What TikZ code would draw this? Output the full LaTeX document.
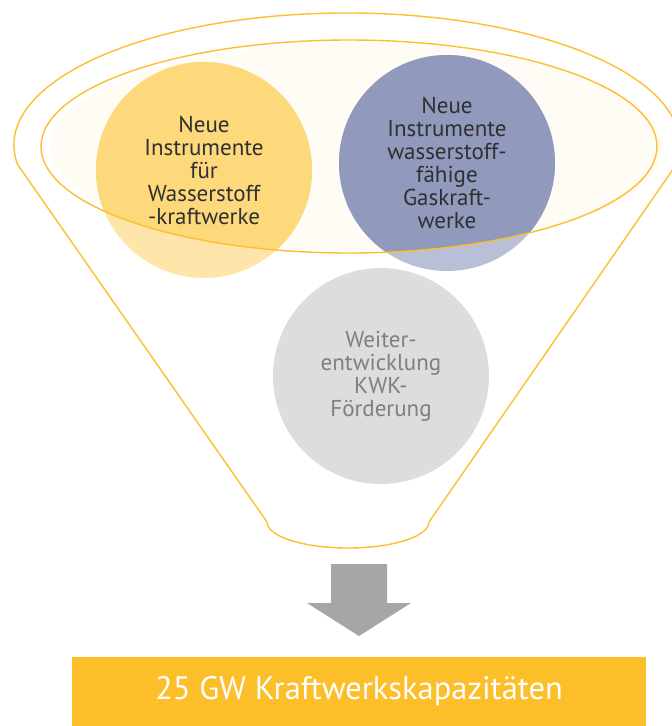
\documentclass[tikz,border=0pt]{standalone}
\usepackage{fontspec}
\setmainfont{PT Sans}
\usepackage{tikz}

\definecolor{funnelorange}{HTML}{FDBF2D}
\definecolor{creamfill}{HTML}{FFFBF5}
\definecolor{yellowlight}{HTML}{FEE6AB}
\definecolor{yellowdark}{HTML}{FDD97B}
\definecolor{bluelight}{HTML}{BABFD8}
\definecolor{bluedark}{HTML}{9199BD}
\definecolor{greyfill}{HTML}{DCDDDD}
\definecolor{greytext}{HTML}{7F7F7F}
\definecolor{darktext}{HTML}{303030}
\definecolor{arrowgray}{HTML}{A6A6A6}
\definecolor{boxorange}{HTML}{FDBF29}

\begin{document}
\begin{tikzpicture}[x=1pt,y=-1pt,
  bubble/.style={circle, minimum size=216pt, inner sep=0pt},
  bubbletext/.style={align=center, font=\fontsize{23}{23}\selectfont},
  funnelline/.style={draw=funnelorange, line width=1.4pt}]
\useasboundingbox (0,0) rectangle (672,726);

% cream inside of the funnel opening
\fill[creamfill] (357,147) ellipse [x radius=307, y radius=104];

% light circles
\node[bubble, fill=yellowlight] (h2plants) at (204,170) {};
\node[bubble, fill=bluelight] (gasplants) at (447,163) {};
\node[bubble, fill=greyfill] (kwk) at (381,376) {};

% darker where the circles lie in the opening
\begin{scope}
\clip (349,146.5) ellipse [x radius=308, y radius=106.5];
\fill[yellowdark] (h2plants) circle [radius=108pt];
\fill[bluedark] (gasplants) circle [radius=108pt];
\end{scope}

% outer rim and body of the funnel
\draw[funnelline] (17.7,164.7) arc [start angle=171.4, end angle=368.6, x radius=333, y radius=132]
  -- (429,522) arc [start angle=0, end angle=180, x radius=81, y radius=26] -- cycle;
% inner rim
\draw[funnelline] (349,146.5) ellipse [x radius=308, y radius=106.5];

% texts of the circles
\node[bubbletext, text=darktext] (h2plantsText) at (h2plants) {Neue\\Instrumente\\für\\Wasserstoff\\-kraftwerke};
\node[bubbletext, text=darktext] (gasplantsText) at (gasplants) {Neue\\Instrumente\\wasserstoff-\\fähige\\Gaskraft-\\werke};
\node[bubbletext, text=greytext] (kwkText) at (kwk) {Weiter-\\entwicklung\\KWK-\\Förderung};

% arrow down
\fill[arrowgray] (331,564) -- (387,564) -- (387,603) -- (411,603) -- (359,636) -- (307,603) -- (331,603) -- cycle;

% result box
\node[fill=boxorange, minimum width=574pt, minimum height=69pt, inner sep=0pt,
  text=white, font=\fontsize{32.5}{36}\selectfont] (capacity) at (359,691.5) {25 GW Kraftwerkskapazitäten};
\end{tikzpicture}
\end{document}
